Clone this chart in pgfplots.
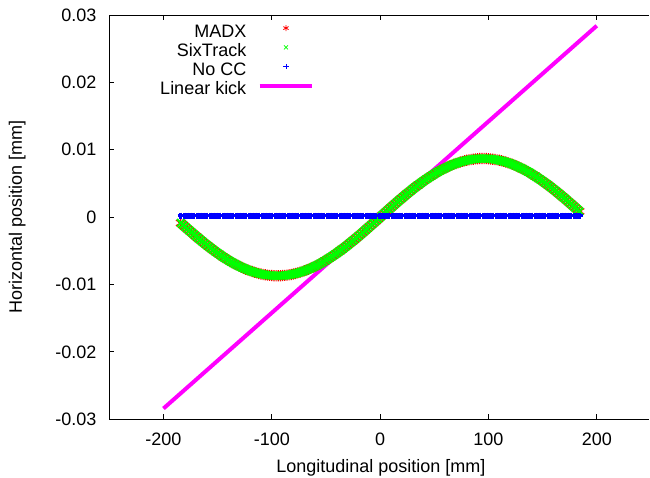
\documentclass[border=0pt]{standalone}
\usepackage{fontspec}
\setmainfont{Liberation Sans}
\usepackage{pgfplots}
\pgfplotsset{compat=1.18}
\usepackage{pgfplotstable}
\definecolor{gpred}{RGB}{255,0,0}
\definecolor{gpgreen}{RGB}{0,255,0}
\definecolor{gpblue}{RGB}{0,0,255}
\definecolor{gpmag}{RGB}{255,0,255}
\newcommand{\gpfont}{\fontsize{18}{21}\selectfont}

\pgfplotstableread{
x y
-184 -0.000861
-182 -0.001147
-180 -0.001431
-178 -0.001714
-176 -0.001996
-174 -0.002274
-172 -0.002551
-170 -0.002824
-168 -0.003095
-166 -0.003362
-164 -0.003626
-162 -0.003885
-160 -0.004141
-158 -0.004391
-156 -0.004637
-154 -0.004877
-152 -0.005113
-150 -0.005343
-148 -0.005566
-146 -0.005785
-144 -0.005996
-142 -0.006202
-140 -0.006401
-138 -0.006593
-136 -0.006777
-134 -0.006954
-132 -0.007120
-130 -0.007284
-128 -0.007437
-126 -0.007582
-124 -0.007718
-122 -0.007847
-120 -0.007975
-118 -0.008077
-116 -0.008183
-114 -0.008274
-112 -0.008358
-110 -0.008434
-108 -0.008499
-106 -0.008557
-104 -0.008603
-102 -0.008643
-100 -0.008670
-98 -0.008690
-96 -0.008699
-94 -0.008699
-92 -0.008691
-90 -0.008670
-88 -0.008644
-86 -0.008603
-84 -0.008557
-82 -0.008499
-80 -0.008434
-78 -0.008358
-76 -0.008274
-74 -0.008181
-72 -0.008077
-70 -0.007967
-68 -0.007847
-66 -0.007718
-64 -0.007583
-62 -0.007437
-60 -0.007285
-58 -0.007120
-56 -0.006954
-54 -0.006777
-52 -0.006593
-50 -0.006401
-48 -0.006203
-46 -0.005997
-44 -0.005785
-42 -0.005566
-40 -0.005344
-38 -0.005114
-36 -0.004878
-34 -0.004638
-32 -0.004391
-30 -0.004141
-28 -0.003885
-26 -0.003626
-24 -0.003363
-22 -0.003095
-20 -0.002825
-18 -0.002551
-16 -0.002275
-14 -0.001996
-12 -0.001715
-10 -0.001432
-8 -0.001147
-6 -0.000862
-4 -0.000575
-2 -0.000288
0 0
2 0.000288
4 0.000575
6 0.000862
8 0.001147
10 0.001432
12 0.001715
14 0.001996
16 0.002275
18 0.002551
20 0.002825
22 0.003095
24 0.003363
26 0.003626
28 0.003885
30 0.004141
32 0.004391
34 0.004638
36 0.004878
38 0.005114
40 0.005344
42 0.005566
44 0.005785
46 0.005997
48 0.006203
50 0.006401
52 0.006593
54 0.006777
56 0.006954
58 0.007120
60 0.007285
62 0.007437
64 0.007583
66 0.007718
68 0.007847
70 0.007967
72 0.008077
74 0.008181
76 0.008274
78 0.008358
80 0.008434
82 0.008499
84 0.008557
86 0.008603
88 0.008644
90 0.008670
92 0.008691
94 0.008699
96 0.008699
98 0.008690
100 0.008670
102 0.008643
104 0.008603
106 0.008557
108 0.008499
110 0.008434
112 0.008358
114 0.008274
116 0.008183
118 0.008077
120 0.007975
122 0.007847
124 0.007718
126 0.007582
128 0.007437
130 0.007284
132 0.007120
134 0.006954
136 0.006777
138 0.006593
140 0.006401
142 0.006202
144 0.005996
146 0.005785
148 0.005566
150 0.005343
152 0.005113
154 0.004877
156 0.004637
158 0.004391
160 0.004141
162 0.003885
164 0.003626
166 0.003362
168 0.003095
170 0.002824
172 0.002551
174 0.002274
176 0.001996
178 0.001714
180 0.001431
182 0.001147
184 0.000861
}\sinedata

\pgfplotstableread{
x y
-184 0.0002
-181 0.0002
-178 0.0002
-175 0.0002
-172 0.0002
-169 0.0002
-166 0.0002
-163 0.0002
-160 0.0002
-157 0.0002
-154 0.0002
-151 0.0002
-148 0.0002
-145 0.0002
-142 0.0002
-139 0.0002
-136 0.0002
-133 0.0002
-130 0.0002
-127 0.0002
-124 0.0002
-121 0.0002
-118 0.0002
-115 0.0002
-112 0.0002
-109 0.0002
-106 0.0002
-103 0.0002
-100 0.0002
-97 0.0002
-94 0.0002
-91 0.0002
-88 0.0002
-85 0.0002
-82 0.0002
-79 0.0002
-76 0.0002
-73 0.0002
-70 0.0002
-67 0.0002
-64 0.0002
-61 0.0002
-58 0.0002
-55 0.0002
-52 0.0002
-49 0.0002
-46 0.0002
-43 0.0002
-40 0.0002
-37 0.0002
-34 0.0002
-31 0.0002
-28 0.0002
-25 0.0002
-22 0.0002
-19 0.0002
-16 0.0002
-13 0.0002
-10 0.0002
-7 0.0002
-4 0.0002
-1 0.0002
2 0.0002
5 0.0002
8 0.0002
11 0.0002
14 0.0002
17 0.0002
20 0.0002
23 0.0002
26 0.0002
29 0.0002
32 0.0002
35 0.0002
38 0.0002
41 0.0002
44 0.0002
47 0.0002
50 0.0002
53 0.0002
56 0.0002
59 0.0002
62 0.0002
65 0.0002
68 0.0002
71 0.0002
74 0.0002
77 0.0002
80 0.0002
83 0.0002
86 0.0002
89 0.0002
92 0.0002
95 0.0002
98 0.0002
101 0.0002
104 0.0002
107 0.0002
110 0.0002
113 0.0002
116 0.0002
119 0.0002
122 0.0002
125 0.0002
128 0.0002
131 0.0002
134 0.0002
137 0.0002
140 0.0002
143 0.0002
146 0.0002
149 0.0002
152 0.0002
155 0.0002
158 0.0002
161 0.0002
164 0.0002
167 0.0002
170 0.0002
173 0.0002
176 0.0002
179 0.0002
182 0.0002
184 0.0002
}\noccdata

\pgfplotstableread{
x y
-200 -0.0284
200 0.0284
}\lineardata

\begin{document}
\begin{tikzpicture}
\begin{axis}[
  scale only axis,
  width=540pt, height=404.3pt,
  xmin=-250, xmax=248.5, ymin=-0.03, ymax=0.03,
  axis y line*=left,
  axis line style={-, line width=0.9pt},
  xtick={-200,-100,0,100,200},
  ytick={-0.03,-0.02,-0.01,0,0.01,0.02,0.03},
  yticklabels={-0.03,-0.02,-0.01,0,0.01,0.02,0.03},
  xtick pos=both, ytick pos=left,
  tick align=inside,
  major tick length=5pt,
  tick style={line width=0.9pt, black},
  scaled y ticks=false,
  /pgf/number format/assume math mode=true,
  every tick label/.append style={font=\gpfont},
  yticklabel style={inner sep=0pt, anchor=east, xshift=-12.6pt},
  xticklabel style={inner sep=0pt, anchor=north, yshift=-13.7pt},
  xlabel={Longitudinal position [mm]},
  ylabel={Horizontal position [mm]},
  label style={font=\gpfont},
  xlabel style={at={(axis description cs:0.503,-0.1321)}, anchor=base, inner sep=0pt},
  ylabel style={at={(axis description cs:-0.1617,0.5)}, anchor=base, inner sep=0pt},
  legend style={draw=none, fill=none, at={(axis description cs:0.3796,0.980)}, anchor=north east,
    inner sep=0pt, outer sep=0pt, row sep=0.3pt, column sep=10.4pt, font=\gpfont,
    nodes={inner sep=1pt, text height=13pt, text depth=4pt}},
  legend cell align=right,
  legend plot pos=right,
  legend image code/.code={\draw[mark repeat=2,mark phase=2,#1] plot coordinates {(0pt,4.5pt) (26.3pt,4.5pt) (52.6pt,4.5pt)};},
]
\addplot[only marks, mark=asterisk, gpred, mark size=5.6pt, line width=1.2pt,
  legend image post style={mark size=3pt, line width=0.8pt}] table[x=x,y=y] {\sinedata};
\addlegendentry{MADX}
\addplot[only marks, mark=x, gpgreen, mark size=5.4pt, line width=2pt,
  legend image post style={mark size=2.8pt, line width=0.8pt}] table[x=x,y=y] {\sinedata};
\addlegendentry{SixTrack}
\addplot[only marks, mark=+, gpblue, mark size=3.2pt, line width=3pt,
  legend image post style={mark size=2.8pt, line width=0.8pt}] table[x=x,y=y] {\noccdata};
\addlegendentry{No CC}
\addplot[gpmag, line width=4pt, no marks] table[x=x,y=y] {\lineardata};
\addlegendentry{Linear kick}
\end{axis}
\pgfresetboundingbox
\path[use as bounding box] ([xshift=-109.3pt,yshift=-58.7pt]current axis.south west) rectangle ([xshift=540.7pt,yshift=419.3pt]current axis.south west);
\end{tikzpicture}
\end{document}
